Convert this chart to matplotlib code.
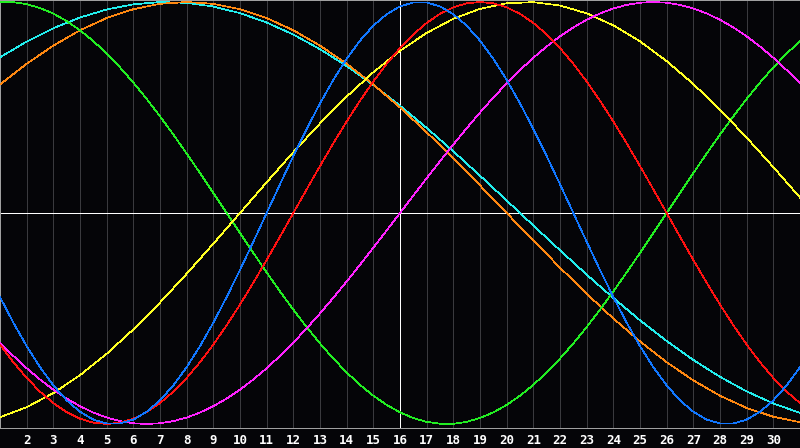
import matplotlib
matplotlib.use("Agg")
import matplotlib.pyplot as plt

days = list(range(1, 32))
half_days = [1 + 0.5 * i for i in range(61)]
tick_days = list(range(2, 31))
tick_labels = [str(d) for d in tick_days]
today = 16

# half-day readings
blue = [-0.3984, -0.5196, -0.6311, -0.7308, -0.8170, -0.8879, -0.9423, -0.9791, -0.9977, -0.9977,
        -0.9791, -0.9423, -0.8879, -0.8170, -0.7308, -0.6311, -0.5196, -0.3984, -0.2698, -0.1362,
        0.0, 0.1362, 0.2698, 0.3984, 0.5196, 0.6311, 0.7308, 0.8170, 0.8879, 0.9423,
        0.9791, 0.9977, 0.9977, 0.9791, 0.9423, 0.8879, 0.8170, 0.7308, 0.6311, 0.5196,
        0.3984, 0.2698, 0.1362, 0.0, -0.1362, -0.2698, -0.3984, -0.5196, -0.6311, -0.7308,
        -0.8170, -0.8879, -0.9423, -0.9791, -0.9977, -0.9977, -0.9791, -0.9423, -0.8879, -0.8170,
        -0.7308]
red = [-0.6235, -0.7071, -0.7818, -0.8467, -0.9010, -0.9439, -0.9749, -0.9937, -1.0, -0.9937,
       -0.9749, -0.9439, -0.9010, -0.8467, -0.7818, -0.7071, -0.6235, -0.5320, -0.4339, -0.3303,
       -0.2225, -0.1120, 0.0, 0.1120, 0.2225, 0.3303, 0.4339, 0.5320, 0.6235, 0.7071,
       0.7818, 0.8467, 0.9010, 0.9439, 0.9749, 0.9937, 1.0, 0.9937, 0.9749, 0.9439,
       0.9010, 0.8467, 0.7818, 0.7071, 0.6235, 0.5320, 0.4339, 0.3303, 0.2225, 0.1120,
       0.0, -0.1120, -0.2225, -0.3303, -0.4339, -0.5320, -0.6235, -0.7071, -0.7818, -0.8467,
       -0.9010]
green = [0.9989, 0.9989, 0.9898, 0.9718, 0.9450, 0.9096, 0.8660, 0.8146, 0.7557, 0.6901,
         0.6182, 0.5406, 0.4582, 0.3717, 0.2817, 0.1893, 0.0951, 0.0, -0.0951, -0.1893,
         -0.2817, -0.3717, -0.4582, -0.5406, -0.6182, -0.6901, -0.7557, -0.8146, -0.8660, -0.9096,
         -0.9450, -0.9718, -0.9898, -0.9989, -0.9989, -0.9898, -0.9718, -0.9450, -0.9096, -0.8660,
         -0.8146, -0.7557, -0.6901, -0.6182, -0.5406, -0.4582, -0.3717, -0.2817, -0.1893, -0.0951,
         0.0, 0.0951, 0.1893, 0.2817, 0.3717, 0.4582, 0.5406, 0.6182, 0.6901, 0.7557,
         0.8146]
magenta = [-0.6142, -0.6773, -0.7357, -0.7891, -0.8372, -0.8795, -0.9158, -0.9458, -0.9694, -0.9864,
           -0.9966, -1.0, -0.9966, -0.9864, -0.9694, -0.9458, -0.9158, -0.8795, -0.8372, -0.7891,
           -0.7357, -0.6773, -0.6142, -0.5469, -0.4759, -0.4016, -0.3247, -0.2455, -0.1646, -0.0826,
           0.0, 0.0826, 0.1646, 0.2455, 0.3247, 0.4016, 0.4759, 0.5469, 0.6142, 0.6773,
           0.7357, 0.7891, 0.8372, 0.8795, 0.9158, 0.9458, 0.9694, 0.9864, 0.9966, 1.0,
           0.9966, 0.9864, 0.9694, 0.9458, 0.9158, 0.8795, 0.8372, 0.7891, 0.7357, 0.6773,
           0.6142]
# daily readings
yellow = [-0.9675, -0.9203, -0.8535, -0.7686, -0.6673, -0.5517, -0.4244, -0.2881, -0.1456, 0.0,
          0.1456, 0.2881, 0.4244, 0.5517, 0.6673, 0.7686, 0.8535, 0.9203, 0.9675, 0.9940,
          0.9993, 0.9834, 0.9464, 0.8894, 0.8133, 0.7199, 0.6112, 0.4894, 0.3573, 0.2174, 0.0730]
orange = [0.6088, 0.7071, 0.7934, 0.8660, 0.9239, 0.9659, 0.9914, 1.0, 0.9914, 0.9659,
          0.9239, 0.8660, 0.7934, 0.7071, 0.6088, 0.5, 0.3827, 0.2588, 0.1305, 0.0,
          -0.1305, -0.2588, -0.3827, -0.5, -0.6088, -0.7071, -0.7934, -0.8660, -0.9239, -0.9659, -0.9914]
cyan = [0.7378, 0.8125, 0.8757, 0.9267, 0.9646, 0.9890, 0.9996, 0.9961, 0.9786, 0.9473,
        0.9028, 0.8456, 0.7765, 0.6966, 0.6068, 0.5085, 0.4031, 0.2921, 0.1769, 0.0592,
        -0.0592, -0.1769, -0.2921, -0.4031, -0.5085, -0.6068, -0.6966, -0.7765, -0.8456, -0.9028, -0.9473]

series = [
    (days, cyan, '#22eeee'),
    (days, orange, '#ff8811'),
    (half_days, green, '#22ee22'),
    (days, yellow, '#ffff22'),
    (half_days, magenta, '#ff22ff'),
    (half_days, red, '#ff1111'),
    (half_days, blue, '#1177ff'),
]

bg = '#050508'
LW = 0.5
fig = plt.figure(figsize=(8, 4.48), dpi=100, facecolor=bg)
ax = fig.add_axes([0, 20 / 448, 1, 428 / 448], facecolor=bg)
ax.set_xlim(1, 31)
ax.set_ylim(-1.019, 1.0095)

for d in tick_days:
    if d != today:
        ax.axvline(d, color='#3a3a3e', lw=LW, zorder=1, antialiased=False)
ax.axvline(today, color='white', lw=LW, zorder=2, antialiased=False)
ax.axhline(0, color='white', lw=LW, zorder=2, antialiased=False)

for xs, vals, col in series:
    ax.plot(xs, vals, color=col, lw=LW, zorder=3, antialiased=False)

ax.set_xticks(tick_days)
ax.set_xticklabels(tick_labels, color='white', fontsize=9, fontweight='bold',
                   family='DejaVu Sans Mono')
ax.tick_params(axis='x', length=0, pad=4)
ax.set_yticks([])
for side in ['left', 'top', 'bottom']:
    ax.spines[side].set_color('#a0a0a0')
    ax.spines[side].set_linewidth(LW)
    ax.spines[side].set_antialiased(False)
ax.spines['right'].set_visible(False)

fig.savefig('out.png', dpi=100, facecolor=bg)
